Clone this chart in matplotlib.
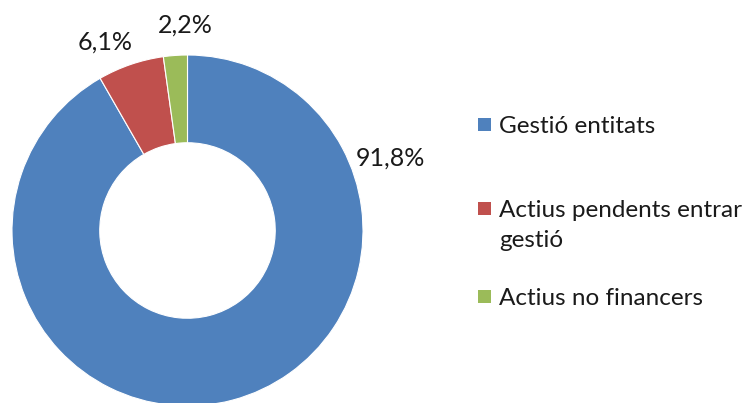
import matplotlib
matplotlib.use('Agg')
import matplotlib.pyplot as plt
from matplotlib.patches import Rectangle

# ── data ──────────────────────────────────────────────────────────────────────
categories = ['Gestió entitats', 'Actius pendents entrar\ngestió', 'Actius no financers']
values = [91.8, 6.1, 2.2]
pct_labels = ['91,8%', '6,1%', '2,2%']
colors = ['#4F81BD', '#C0504D', '#9BBB59']

# label anchor points (in radius units, relative to the centre)
label_pos = [(1.157, 0.41), (-0.47, 1.074), (-0.014, 1.171)]
# legend rows: baseline of first line, figure pixels from top
legend_rows = [133, 217, 305]

plt.rcParams['font.family'] = ['Lato', 'DejaVu Sans']

W, H = 748, 403
fig = plt.figure(figsize=(W / 100, H / 100), dpi=100)

cx, cy, R = 187.5, 230.5, 175.5
ax = fig.add_axes([(cx - R) / W, (H - cy - R) / H, 2 * R / W, 2 * R / H])
ax.pie(values, colors=colors, startangle=90, counterclock=False, radius=1,
       wedgeprops=dict(width=0.5, edgecolor='white', linewidth=0.8))
ax.set_xlim(-1, 1)
ax.set_ylim(-1, 1)
ax.set_aspect('equal')
ax.axis('off')

for txt, (x, y) in zip(pct_labels, label_pos):
    ax.text(x, y, txt, ha='center', va='center', fontsize=18, color='#1a1a1a',
            clip_on=False)

# ── legend, drawn by hand to keep Excel's uneven spacing ─────────────────────
for cat, col, base in zip(categories, colors, legend_rows):
    fig.patches.append(Rectangle((478 / W, (H - base + 2) / H), 13 / W, 13 / H,
                                 transform=fig.transFigure, facecolor=col,
                                 edgecolor='none'))
    lines = cat.split('\n')
    for i, line in enumerate(lines):
        fig.text(499 / W, (H - base - 30 * i) / H, line, ha='left', va='baseline',
                 fontsize=17.5, color='#1a1a1a')

fig.savefig('out.png', dpi=100)
